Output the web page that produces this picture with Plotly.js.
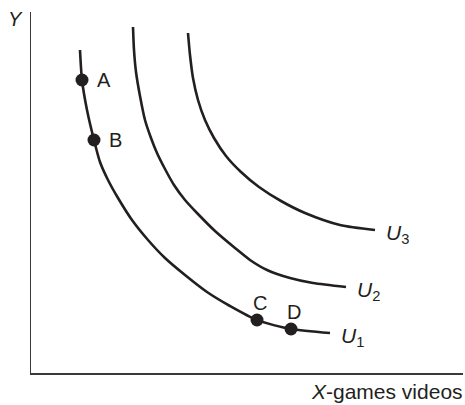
<!DOCTYPE html>
<html>
<head>
<meta charset="utf-8">
<script src="https://cdn.plot.ly/plotly-3.0.1.min.js"></script>
<style>html,body{margin:0;padding:0;background:#fff;}#chart{width:465px;height:405px;}</style>
</head>
<body>
<div id="chart"></div>
<script>
// Indifference curves (arbitrary units of X-games videos and Y)
const u1X = [49, 51, 56, 63, 69, 77, 87, 101, 117, 134, 154, 176, 199, 226, 260, 299];
const u1Y = [323, 293, 263, 233, 211, 193, 175, 153, 133, 115, 98, 81, 67, 53, 44, 40];
const u2X = [102, 103, 105, 109, 114, 120, 126, 134, 143, 154, 166, 184, 204, 219, 236, 259, 282, 315];
const u2Y = [346, 323, 301, 277, 253, 235, 220, 204, 188, 173, 160, 142, 125, 113, 103, 95, 90, 86];
const u3X = [157, 159, 162, 167, 174, 183, 195, 210, 228, 250, 274, 309, 344];
const u3Y = [340, 318, 295, 273, 253, 235, 217, 201, 186, 172, 160, 148, 143];

// Bundles on U1
const pointNames = ["A", "B", "C", "D"];
const pointX = [51, 63, 226, 260];
const pointY = [293, 233, 53, 44];

const curveNames = ["U<sub>1</sub>", "U<sub>2</sub>", "U<sub>3</sub>"];
const xLabel = "X";
const xLabelRest = "-games videos";
const yLabel = "Y";

const ink = "#231f20";
const font = "Liberation Sans, Arial, Helvetica, sans-serif";

const lineStyle = {color: ink, width: 2.6, shape: "spline", smoothing: 0.7};
const traces = [
  {x: u1X, y: u1Y, mode: "lines", line: lineStyle, hoverinfo: "skip"},
  {x: u2X, y: u2Y, mode: "lines", line: lineStyle, hoverinfo: "skip"},
  {x: u3X, y: u3Y, mode: "lines", line: lineStyle, hoverinfo: "skip"},
  {x: pointX, y: pointY, mode: "markers", marker: {color: ink, size: 13}, hoverinfo: "skip"}
];

const pointLabelOffset = [[21.5, 0], [21.5, 0], [2.5, 17.5], [2.5, 17.5]];
const annotations = [];
pointNames.forEach((n, i) => {
  annotations.push({
    x: pointX[i] + pointLabelOffset[i][0], y: pointY[i] + pointLabelOffset[i][1],
    xref: "x", yref: "y", text: n, showarrow: false,
    xanchor: "center", yanchor: "middle",
    font: {family: font, size: 20, color: ink}
  });
});
const curveEndsX = [u1X[u1X.length - 1], u2X[u2X.length - 1], u3X[u3X.length - 1]];
const curveEndsY = [u1Y[u1Y.length - 1], u2Y[u2Y.length - 1], u3Y[u3Y.length - 1]];
curveNames.forEach((n, i) => {
  const parts = n.split("<sub>");
  annotations.push({
    x: curveEndsX[i] + 9, y: curveEndsY[i] - 4,
    xref: "x", yref: "y",
    text: "<i>" + parts[0] + "</i><sub>" + parts[1],
    showarrow: false, xanchor: "left", yanchor: "middle",
    font: {family: font, size: 21, color: ink}
  });
});
annotations.push({
  x: 1, y: 0, xref: "paper", yref: "paper",
  text: "<i>" + xLabel + "</i>" + xLabelRest,
  showarrow: false, xanchor: "right", yanchor: "middle", yshift: -18, xshift: 2,
  font: {family: font, size: 21, color: ink}
});
annotations.push({
  x: 0, y: 1, xref: "paper", yref: "paper",
  text: "<i>" + yLabel + "</i>",
  showarrow: false, xanchor: "right", yanchor: "middle", yshift: -7, xshift: -6,
  font: {family: font, size: 20, color: ink}
});

const axisCommon = {
  showgrid: false, zeroline: false, showticklabels: false, ticks: "",
  showline: true, linecolor: "#3a3a3a", linewidth: 1.5, fixedrange: true
};
const layout = {
  width: 465, height: 405,
  margin: {l: 31, r: 2, t: 12, b: 32, pad: 0},
  paper_bgcolor: "#fff", plot_bgcolor: "#fff",
  showlegend: false,
  xaxis: Object.assign({range: [0, 432]}, axisCommon),
  yaxis: Object.assign({range: [0, 361]}, axisCommon),
  annotations: annotations
};
Plotly.newPlot("chart", traces, layout, {displayModeBar: false, staticPlot: true});
</script>
</body>
</html>
